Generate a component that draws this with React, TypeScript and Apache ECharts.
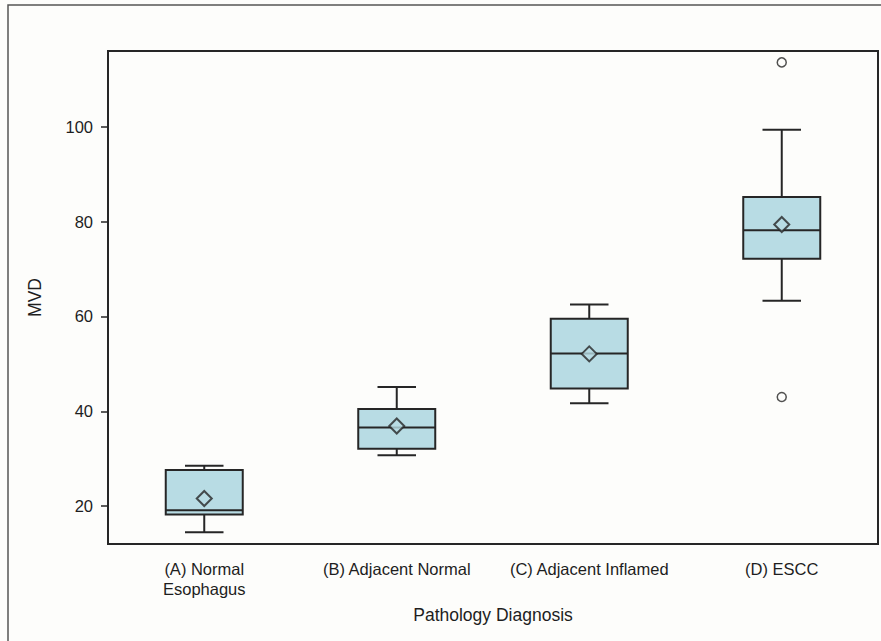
import React, { useEffect, useRef } from "react";
import * as echarts from "echarts";

// Pathology groups on the x axis
const categories = [
  "(A) Normal\nEsophagus",
  "(B) Adjacent Normal",
  "(C) Adjacent Inflamed",
  "(D) ESCC",
];

// Box-plot summary statistics of MVD per group
const whiskerLow = [14.5, 30.7, 41.7, 63.3];
const q1 = [18.2, 32.1, 44.8, 72.2];
const median = [19.1, 36.6, 52.2, 78.2];
const q3 = [27.6, 40.5, 59.5, 85.2];
const whiskerHigh = [28.5, 45.1, 62.5, 99.4];
const means = [21.6, 36.9, 52.1, 79.4];

// Outlying observations: [group index, value]
const outliers: [number, number][] = [
  [3, 113.6],
  [3, 43.0],
];

const yTicks = [20, 40, 60, 80, 100];

const LINE = "#262626";
const FILL = "#b8dce4";
const BG = "#fdfdfb";
const TEXT = "#1e1e1e";
const FONT = "'Liberation Sans', Arial, sans-serif";

export default function App() {
  const ref = useRef<HTMLDivElement>(null);

  useEffect(() => {
    document.body.style.margin = "0";
    if (!ref.current) return;
    const chart = echarts.init(ref.current, null, { renderer: "svg" });

    const boxData = categories.map((_, i) => [
      i,
      whiskerLow[i],
      q1[i],
      median[i],
      q3[i],
      whiskerHigh[i],
    ]);

    chart.setOption({
      animation: false,
      backgroundColor: BG,
      textStyle: { fontFamily: FONT },
      graphic: [
        {
          type: "rect",
          silent: true,
          shape: { x: 8, y: 5, width: 900, height: 700 },
          style: { fill: "none", stroke: "#555", lineWidth: 1.5 },
        },
      ],
      grid: {
        left: 108,
        right: 3,
        top: 51,
        bottom: 97,
        show: true,
        borderColor: LINE,
        borderWidth: 2,
        backgroundColor: "transparent",
      },
      xAxis: {
        type: "category",
        data: categories,
        boundaryGap: true,
        name: "Pathology Diagnosis",
        nameLocation: "middle",
        nameGap: 62,
        nameTextStyle: { fontSize: 17.5, color: TEXT, fontFamily: FONT },
        axisLine: { lineStyle: { color: LINE, width: 2 } },
        axisTick: { alignWithLabel: true, length: 6, lineStyle: { color: LINE, width: 1.5 } },
        axisLabel: {
          margin: 15,
          fontSize: 16.5,
          lineHeight: 20,
          color: TEXT,
          fontFamily: FONT,
          interval: 0,
        },
        splitLine: { show: false },
      },
      yAxis: {
        type: "value",
        min: 12,
        max: 116,
        name: "MVD",
        nameLocation: "middle",
        nameGap: 64,
        nameTextStyle: { fontSize: 17.5, color: TEXT, fontFamily: FONT },
        axisLine: { show: true, lineStyle: { color: LINE, width: 2 } },
        axisTick: {
          show: true,
          length: 7,
          customValues: yTicks,
          lineStyle: { color: LINE, width: 1.5 },
        },
        axisLabel: {
          margin: 15,
          fontSize: 16.5,
          color: TEXT,
          fontFamily: FONT,
          customValues: yTicks,
        },
        splitLine: { show: false },
      },
      series: [
        {
          type: "custom",
          name: "box",
          data: boxData,
          encode: { x: 0, y: [1, 2, 3, 4, 5] },
          renderItem: (params: any, api: any) => {
            const idx = api.value(0);
            const lo = api.coord([idx, api.value(1)]);
            const b1 = api.coord([idx, api.value(2)]);
            const md = api.coord([idx, api.value(3)]);
            const b3 = api.coord([idx, api.value(4)]);
            const hi = api.coord([idx, api.value(5)]);
            const band = api.size([1, 0])[0];
            const half = band * 0.2;
            const cap = half * 0.5;
            const x = lo[0];
            const style = { stroke: LINE, lineWidth: 2, fill: "none" };
            return {
              type: "group",
              children: [
                { type: "line", shape: { x1: x, y1: hi[1], x2: x, y2: b3[1] }, style },
                { type: "line", shape: { x1: x, y1: b1[1], x2: x, y2: lo[1] }, style },
                { type: "line", shape: { x1: x - cap, y1: hi[1], x2: x + cap, y2: hi[1] }, style },
                { type: "line", shape: { x1: x - cap, y1: lo[1], x2: x + cap, y2: lo[1] }, style },
                {
                  type: "rect",
                  shape: { x: x - half, y: b3[1], width: half * 2, height: b1[1] - b3[1] },
                  style: { fill: FILL, stroke: LINE, lineWidth: 2 },
                },
                { type: "line", shape: { x1: x - half, y1: md[1], x2: x + half, y2: md[1] }, style },
              ],
            };
          },
          z: 2,
        },
        {
          type: "scatter",
          name: "mean",
          data: means.map((v, i) => [i, v]),
          symbol: "diamond",
          symbolSize: [15, 15],
          itemStyle: { color: FILL, borderColor: LINE, borderWidth: 2 },
          z: 3,
        },
        {
          type: "scatter",
          name: "outlier",
          data: outliers,
          symbol: "circle",
          symbolSize: 9,
          itemStyle: { color: BG, borderColor: LINE, borderWidth: 1.5 },
          z: 3,
        },
      ],
    });

    return () => chart.dispose();
  }, []);

  return <div ref={ref} style={{ width: 881, height: 641 }} />;
}
